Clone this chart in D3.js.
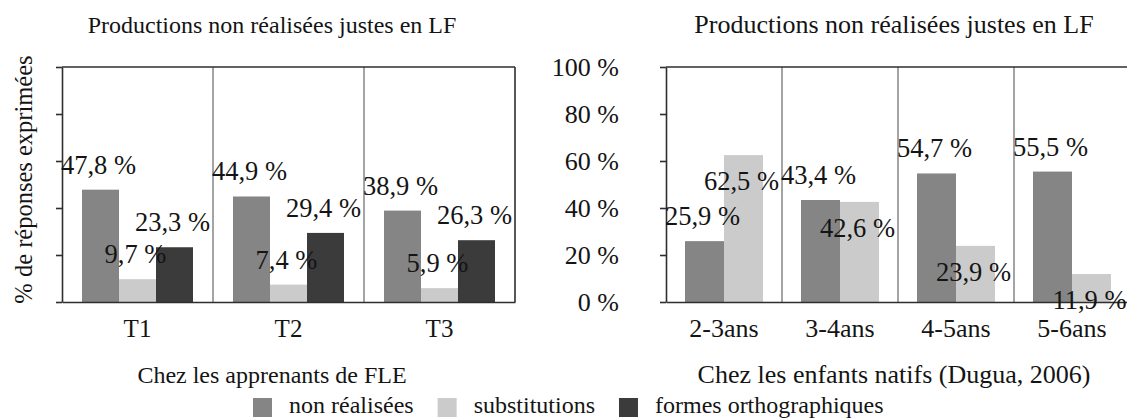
<!DOCTYPE html>
<html>
<head>
<meta charset="utf-8">
<script src="https://cdn.jsdelivr.net/npm/d3@7"></script>
<style>
  body { margin: 0; background: #fff; }
  svg text { font-family: "Liberation Serif", "Times New Roman", Times, serif; fill: #141414; }
</style>
</head>
<body>
<div id="chart"></div>
<script>
// Data
// =================================
var categoriesFLE = ["T1", "T2", "T3"];
var nonRealiseesFLE = [47.8, 44.9, 38.9];
var substitutionsFLE = [9.7, 7.4, 5.9];
var formesFLE = [23.3, 29.4, 26.3];

var categoriesNatifs = ["2-3ans", "3-4ans", "4-5ans", "5-6ans"];
var nonRealiseesNatifs = [25.9, 43.4, 54.7, 55.5];
var substitutionsNatifs = [62.5, 42.6, 23.9, 11.9];

var seriesNames = ["non réalisées", "substitutions", "formes orthographiques"];
var yTicks = [0, 20, 40, 60, 80, 100];

var colors = {
  "non réalisées": "#858585",
  "substitutions": "#cbcbcb",
  "formes orthographiques": "#3b3b3b"
};

var serif = "'Liberation Serif', 'Times New Roman', Times, serif";

// Step 1: Set up the svg
// =================================
var svgWidth = 1127;
var svgHeight = 419;

var svg = d3.select("#chart")
  .append("svg")
  .attr("width", svgWidth)
  .attr("height", svgHeight)
  .attr("font-family", serif);

var yScale = d3.scaleLinear()
  .domain([0, 100])
  .range([302, 67]);

var pct = function(v) { return d3.format(".1f")(v).replace(".", ",") + " %"; };

// Step 2: one panel (bars + axes + labels)
// =================================
function drawPanel(p) {
  var g = svg.append("g");

  var x0 = d3.scaleBand()
    .domain(p.categories)
    .range([p.left, p.right]);

  var names = p.series.map(s => s.name);
  var x1 = d3.scaleBand()
    .domain(names)
    .range([p.pad, x0.bandwidth() - p.pad]);

  // gray separators between categories
  g.selectAll(".sep")
    .data(p.categories.slice(1))
    .enter()
    .append("line")
    .attr("x1", d => x0(d))
    .attr("x2", d => x0(d))
    .attr("y1", yScale(100))
    .attr("y2", yScale(0))
    .attr("stroke", "#a4a4a4")
    .attr("stroke-width", 2);

  // bars
  p.series.forEach(function(s) {
    g.selectAll(null)
      .data(s.values)
      .enter()
      .append("rect")
      .attr("x", (d, i) => x0(p.categories[i]) + x1(s.name))
      .attr("y", d => yScale(d))
      .attr("width", x1.bandwidth())
      .attr("height", d => yScale(0) - yScale(d))
      .attr("fill", colors[s.name]);
  });

  // frame: top line and right line
  g.append("line")
    .attr("x1", p.left).attr("x2", p.right)
    .attr("y1", yScale(100)).attr("y2", yScale(100))
    .attr("stroke", "#2e2e2e").attr("stroke-width", 1.6);
  g.append("line")
    .attr("x1", p.right).attr("x2", p.right)
    .attr("y1", yScale(100)).attr("y2", yScale(0))
    .attr("stroke", "#2e2e2e").attr("stroke-width", 1.6);

  // y axis
  var leftAxis = d3.axisLeft(yScale)
    .tickValues(yTicks)
    .tickSize(6)
    .tickSizeOuter(0)
    .tickPadding(41)
    .tickFormat(p.tickLabels ? d => d + " %" : "");

  var yAxis = g.append("g")
    .attr("transform", `translate(${p.left}, 0)`)
    .attr("color", "#2e2e2e")
    .call(leftAxis)
    .attr("font-family", serif);
  yAxis.selectAll("path, line").attr("stroke-width", 1.6);
  yAxis.selectAll("text")
    .attr("font-size", 26)
    .attr("fill", "#141414");

  // x axis
  var bottomAxis = d3.axisBottom(x0)
    .tickSize(0)
    .tickSizeOuter(0)
    .tickPadding(17);

  var xAxis = g.append("g")
    .attr("transform", `translate(0, ${yScale(0)})`)
    .attr("color", "#2e2e2e")
    .call(bottomAxis)
    .attr("font-family", serif);
  xAxis.select("path").attr("stroke-width", 1.6);
  xAxis.selectAll("text")
    .attr("font-size", p.catSize)
    .attr("fill", "#141414");

  // value labels
  p.series.forEach(function(s) {
    g.selectAll(null)
      .data(s.values)
      .enter()
      .append("text")
      .attr("x", (d, i) => x0(p.categories[i]) + x1(s.name) + x1.bandwidth() / 2 - 2)
      .attr("y", d => yScale(d) + (p.labelBelow === s.name ? 35 : -16))
      .attr("text-anchor", "middle")
      .attr("font-size", 26.5)
      .text(d => pct(d));
  });

  // title and subtitle
  g.append("text")
    .attr("x", p.titleX)
    .attr("y", 33)
    .attr("text-anchor", "middle")
    .attr("font-size", p.titleSize)
    .text(p.title);

  g.append("text")
    .attr("x", p.titleX)
    .attr("y", 383)
    .attr("text-anchor", "middle")
    .attr("font-size", p.titleSize)
    .text(p.subtitle);

  // y axis title (left panel only)
  if (p.yTitle) {
    g.append("text")
      .attr("transform", `translate(32, ${(yScale(0) + yScale(100)) / 2 - 5}) rotate(-90)`)
      .attr("text-anchor", "middle")
      .attr("font-size", 24.5)
      .text(p.yTitle);
  }
}

drawPanel({
  left: 62,
  right: 515,
  pad: 20,
  categories: categoriesFLE,
  series: [
    { name: seriesNames[0], values: nonRealiseesFLE },
    { name: seriesNames[1], values: substitutionsFLE },
    { name: seriesNames[2], values: formesFLE }
  ],
  tickLabels: false,
  catSize: 25,
  titleSize: 24,
  title: "Productions non réalisées justes en LF",
  subtitle: "Chez les apprenants de FLE",
  titleX: 272,
  yTitle: "% de réponses exprimées"
});

drawPanel({
  left: 666,
  right: 1130,
  pad: 19,
  categories: categoriesNatifs,
  series: [
    { name: seriesNames[0], values: nonRealiseesNatifs },
    { name: seriesNames[1], values: substitutionsNatifs }
  ],
  tickLabels: true,
  labelBelow: seriesNames[1],
  catSize: 26,
  titleSize: 26,
  title: "Productions non réalisées justes en LF",
  subtitle: "Chez les enfants natifs (Dugua, 2006)",
  titleX: 894
});

// Step 3: legend
// =================================
var legend = svg.append("g");
var lx = 253;
seriesNames.forEach(function(name) {
  legend.append("rect")
    .attr("x", lx)
    .attr("y", 398)
    .attr("width", 19)
    .attr("height", 19)
    .attr("fill", colors[name]);
  var t = legend.append("text")
    .attr("x", lx + 36)
    .attr("y", 413)
    .attr("font-size", 24)
    .text(name);
  lx += 36 + t.node().getComputedTextLength() + 24;
});
</script>
</body>
</html>
